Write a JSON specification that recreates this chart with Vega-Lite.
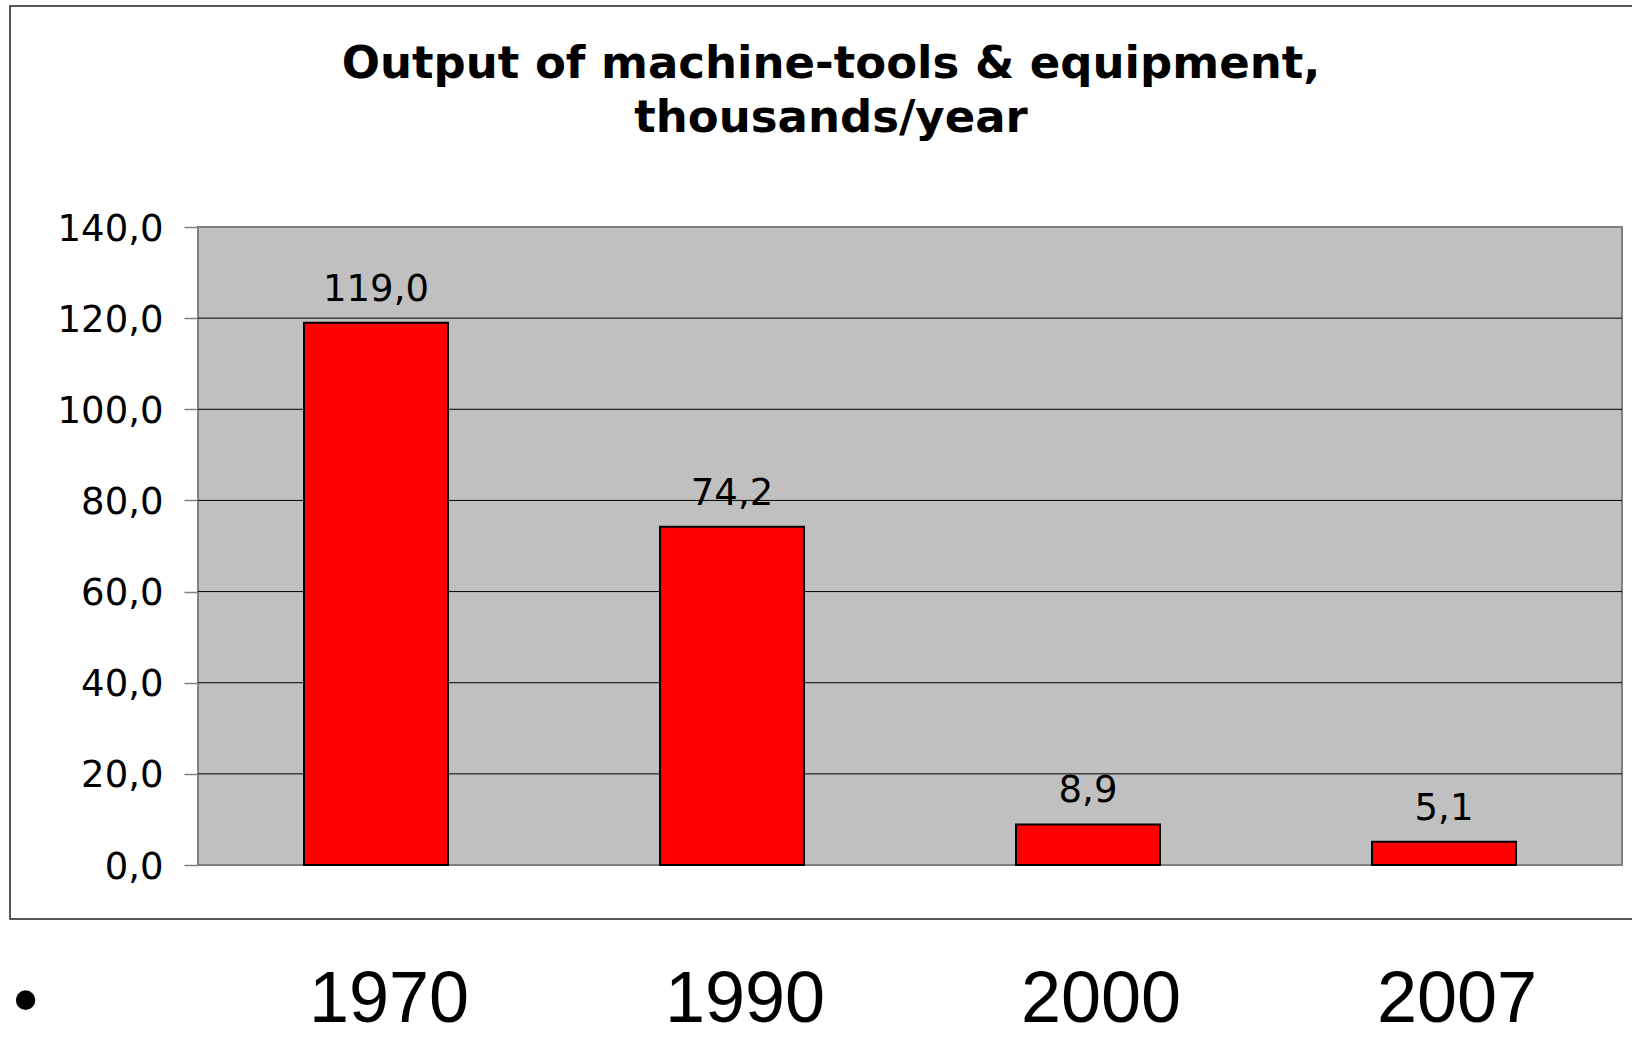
{
  "$schema": "https://vega.github.io/schema/vega-lite/v6.json",
  "autosize": {"type": "none"},
  "padding": {"left": 10, "top": 6, "right": -20, "bottom": 118},
  "width": 1642,
  "height": 913,
  "background": "white",
  "config": {
    "locale": {"number": {"decimal": ",", "thousands": " ", "grouping": [3], "currency": ["", ""]}},
    "view": {"stroke": "#222222", "strokeWidth": 1.5, "fill": "white"}
  },
  "title": {
    "text": ["Output of machine-tools & equipment,", "thousands/year"],
    "font": "DejaVu Sans",
    "fontWeight": "bold",
    "fontSize": 45,
    "lineHeight": 54,
    "color": "black",
    "anchor": "middle",
    "frame": "group",
    "baseline": "alphabetic",
    "offset": -171
  },
  "data": {
    "values": [
      {"year": "1970", "value": 119.0},
      {"year": "1990", "value": 74.2},
      {"year": "2000", "value": 8.9},
      {"year": "2007", "value": 5.1}
    ]
  },
  "resolve": {"scale": {"x": "independent"}},
  "layer": [
    {
      "data": {"values": [{"lo": 0, "hi": 140}]},
      "mark": {"type": "rect", "fill": "#C0C0C0", "stroke": "#808080", "strokeWidth": 2},
      "encoding": {
        "x": {"datum": 0, "type": "quantitative", "scale": {"domain": [0, 1], "range": [188, 1612], "nice": false, "zero": false}, "axis": null},
        "x2": {"datum": 1},
        "y": {
          "field": "lo", "type": "quantitative",
          "scale": {"domain": [0, 140], "range": [859, 221], "nice": false, "zero": true},
          "axis": {
            "orient": "left",
            "offset": -188,
            "values": [0, 20, 40, 60, 80, 100, 120, 140],
            "format": ".1f",
            "domain": false,
            "grid": false,
            "ticks": true,
            "tickSize": 14,
            "tickColor": "#808080",
            "tickWidth": 1.5,
            "labelFont": "DejaVu Sans",
            "labelFontSize": 37,
            "labelColor": "black",
            "labelPadding": 21,
            "labelOffset": 2,
            "title": null
          }
        },
        "y2": {"field": "hi"}
      }
    },
    {
      "data": {"values": [{"g": 20}, {"g": 40}, {"g": 60}, {"g": 80}, {"g": 100}, {"g": 120}]},
      "mark": {"type": "rule", "color": "#000000", "strokeWidth": 1},
      "encoding": {
        "x": {"datum": 0, "type": "quantitative", "scale": {"domain": [0, 1], "range": [188, 1612], "nice": false, "zero": false}, "axis": null},
        "x2": {"datum": 1},
        "y": {"field": "g", "type": "quantitative"}
      }
    },
    {
      "mark": {"type": "bar", "fill": "#FF0000", "stroke": "#000000", "strokeWidth": 2},
      "encoding": {
        "x": {
          "field": "year", "type": "nominal", "sort": null,
          "scale": {"range": [188, 1612], "paddingInner": 0.5955, "paddingOuter": 0.2978},
          "axis": {
            "orient": "bottom",
            "domain": false,
            "ticks": false,
            "tickSize": 0,
            "labelAngle": 0,
            "labelFont": "Liberation Sans",
            "labelFontSize": 72,
            "labelColor": "black",
            "labelBaseline": "alphabetic",
            "labelPadding": 102,
            "labelOffset": 13,
            "title": "•",
            "titleFont": "Liberation Sans",
            "titleFontSize": 72,
            "titleFontWeight": "normal",
            "titleColor": "black",
            "titleAngle": 0,
            "titleAlign": "center",
            "titleBaseline": "alphabetic",
            "titleX": 15,
            "titleY": 104
          }
        },
        "y": {"field": "value", "type": "quantitative"}
      }
    },
    {
      "mark": {"type": "text", "font": "DejaVu Sans", "fontSize": 37, "color": "black", "baseline": "alphabetic", "align": "center", "dy": -22},
      "encoding": {
        "x": {"field": "year", "type": "nominal", "sort": null, "scale": {"range": [188, 1612], "paddingInner": 0.5955, "paddingOuter": 0.2978}, "axis": null},
        "y": {"field": "value", "type": "quantitative"},
        "text": {"field": "value", "type": "quantitative", "format": ".1f"}
      }
    }
  ]
}
